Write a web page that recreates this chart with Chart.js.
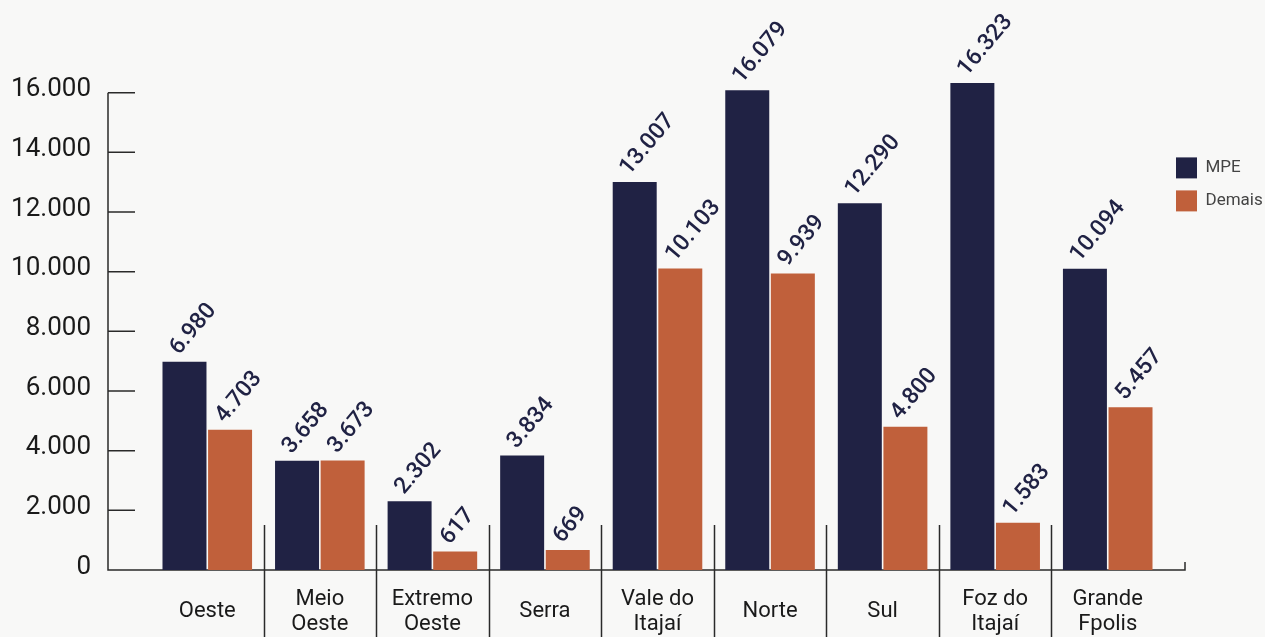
<!DOCTYPE html>
<html lang="pt-BR">
<head>
<meta charset="UTF-8">
<title>MPE x Demais por região</title>
<script src="https://cdn.jsdelivr.net/npm/chart.js@4.4.1/dist/chart.umd.min.js"></script>
<style>
    html, body { margin: 0; padding: 0; background: #f8f8f7; }
    .wrap { position: relative; width: 1265px; height: 637px; }
</style>
</head>
<body>
<div class="wrap"><canvas id="chart"></canvas></div>
<script>
const regioes = [['Oeste'], ['Meio', 'Oeste'], ['Extremo', 'Oeste'], ['Serra'], ['Vale do', 'Itajaí'], ['Norte'], ['Sul'], ['Foz do', 'Itajaí'], ['Grande', 'Fpolis']];
const mpe = [6980, 3658, 2302, 3834, 13007, 16079, 12290, 16323, 10094];
const demais = [4703, 3673, 617, 669, 10103, 9939, 4800, 1583, 5457];
const yTicks = [0, 2000, 4000, 6000, 8000, 10000, 12000, 14000, 16000];

const NAVY = '#202244';
const ORANGE = '#c0603b';
const fmt = v => String(v).replace(/\B(?=(\d{3})+(?!\d))/g, '.');

// eixo Y com marcas para dentro, eixo X e divisórias entre regiões
const eixos = {
    id: 'eixos',
    beforeDatasetsDraw(chart) {
        const { ctx, chartArea, scales: { x, y } } = chart;
        const x0 = chartArea.left - 43;
        const yb = y.getPixelForValue(0);
        const yt = y.getPixelForValue(yTicks[yTicks.length - 1]);
        ctx.save();
        ctx.strokeStyle = '#2a2a2a';
        ctx.lineWidth = 1.5;
        ctx.beginPath();
        ctx.moveTo(x0, yt);
        ctx.lineTo(x0, yb);
        ctx.lineTo(chartArea.right + 21, yb);
        ctx.lineTo(chartArea.right + 21, yb - 8);
        yTicks.forEach(v => {
            const p = y.getPixelForValue(v);
            ctx.moveTo(x0, p);
            ctx.lineTo(x0 + 27, p);
        });
        for (let i = 1; i < regioes.length; i++) {
            const p = Math.round((x.getPixelForValue(i - 1) + x.getPixelForValue(i)) / 2) + 0.5;
            ctx.moveTo(p, yb - 45);
            ctx.lineTo(p, chart.height);
        }
        ctx.stroke();
        ctx.restore();
    }
};

// rótulos de valor inclinados sobre as barras
const rotulos = {
    id: 'rotulos',
    afterDatasetsDraw(chart) {
        const { ctx } = chart;
        ctx.save();
        ctx.fillStyle = NAVY;
        ctx.font = '500 23px Roboto';
        ctx.textAlign = 'left';
        ctx.textBaseline = 'middle';
        chart.data.datasets.forEach((ds, i) => {
            chart.getDatasetMeta(i).data.forEach((bar, j) => {
                ctx.save();
                ctx.translate(bar.x - 10, bar.y - 10);
                ctx.rotate(-50 * Math.PI / 180);
                ctx.fillText(fmt(ds.data[j]), 0, 0);
                ctx.restore();
            });
        });
        ctx.restore();
    }
};

new Chart(document.getElementById('chart'), {
    type: 'bar',
    data: {
        labels: regioes,
        datasets: [
            { label: 'MPE', data: mpe, backgroundColor: NAVY, borderWidth: 0 },
            { label: 'Demais', data: demais, backgroundColor: ORANGE, borderWidth: 0 }
        ]
    },
    options: {
        responsive: true,
        maintainAspectRatio: false,
        animation: false,
        categoryPercentage: 0.81,
        barPercentage: 0.965,
        layout: { padding: { top: 33 } },
        plugins: {
            legend: {
                position: 'right',
                align: 'start',
                maxWidth: 101,
                title: { display: true, text: ' ', font: { size: 12 }, padding: { top: 0, bottom: 98 } },
                labels: {
                    boxWidth: 21,
                    boxHeight: 21,
                    padding: 12,
                    color: '#444',
                    font: { family: 'Roboto', size: 17 }
                }
            },
            tooltip: { enabled: false }
        },
        scales: {
            x: {
                grid: { display: false, drawTicks: false },
                border: { display: false },
                afterFit: s => { s.height = 67; s.paddingLeft = 0; s.paddingRight = 0; },
                ticks: {
                    color: '#1a1a1a',
                    padding: 29,
                    maxRotation: 0,
                    crossAlign: 'center',
                    font: { family: 'Roboto', size: 22, lineHeight: 1.18 }
                }
            },
            y: {
                min: 0,
                max: 18000,
                grid: { display: false, drawTicks: false },
                border: { display: false },
                afterFit: s => { s.width = 151; s.paddingTop = 0; s.paddingBottom = 0; },
                afterBuildTicks: s => { s.ticks = yTicks.map(v => ({ value: v })); },
                ticks: {
                    color: '#1a1a1a',
                    padding: 60,
                    labelOffset: -3,
                    font: { family: 'Roboto', size: 26 },
                    callback: v => fmt(v)
                }
            }
        }
    },
    plugins: [eixos, rotulos]
});
</script>
</body>
</html>
